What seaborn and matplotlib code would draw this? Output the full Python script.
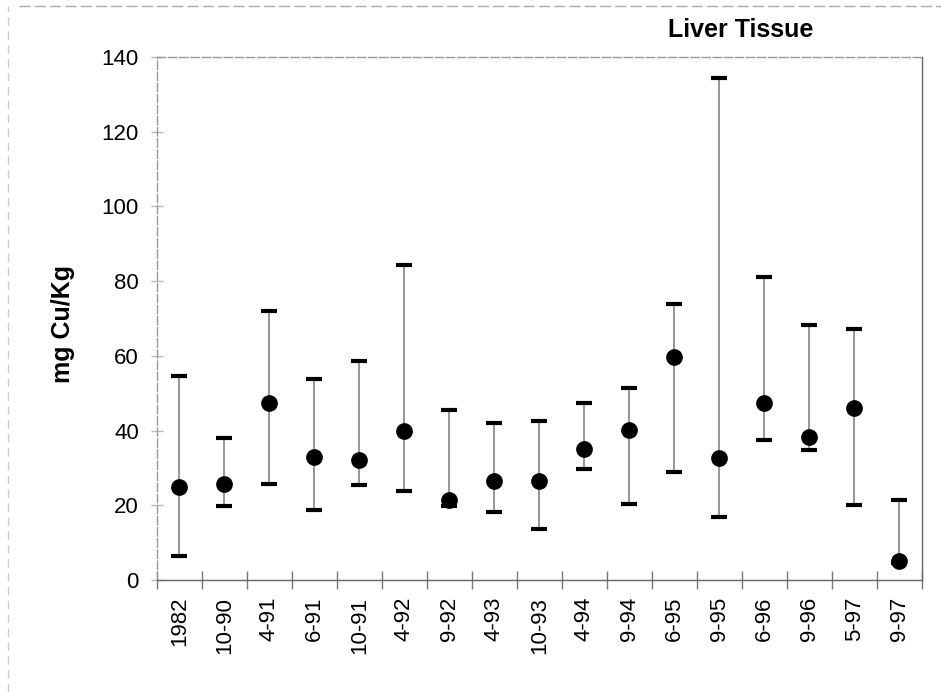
import numpy as np
import pandas as pd
import seaborn as sns
import matplotlib.pyplot as plt
from matplotlib.lines import Line2D

# sampling dates and copper in liver tissue (mg Cu/Kg)
dates = ['1982', '10-90', '4-91', '6-91', '10-91', '4-92', '9-92', '4-93', '10-93',
         '4-94', '9-94', '6-95', '9-95', '6-96', '9-96', '5-97', '9-97']
mean_cu = [24.9, 25.6, 47.4, 33.0, 32.1, 40.0, 21.5, 26.5, 26.5,
           35.0, 40.1, 59.6, 32.7, 47.4, 38.2, 46.1, 5.0]
min_cu = [6.3, 19.7, 25.7, 18.7, 25.4, 23.8, 19.8, 18.3, 13.7,
          29.8, 20.4, 28.9, 16.8, 37.4, 34.8, 20.0, 4.6]
max_cu = [54.5, 38.0, 71.9, 53.9, 58.7, 84.2, 45.4, 42.1, 42.6,
          47.4, 51.5, 74.0, 134.3, 81.1, 68.2, 67.1, 21.5]

df = pd.DataFrame({'date': dates, 'mean': mean_cu, 'min': min_cu, 'max': max_cu})

sns.set_style('white')
plt.rcParams['font.family'] = ['Liberation Sans', 'DejaVu Sans']
plt.rcParams['text.color'] = 'black'
plt.rcParams['xtick.labelcolor'] = 'black'
plt.rcParams['ytick.labelcolor'] = 'black'
plt.rcParams['axes.labelcolor'] = 'black'

fig = plt.figure(figsize=(9.41, 6.92), dpi=100)
ax = fig.add_axes([0.1668, 0.1618, 0.8130, 0.7558])

# range bars (min - max) with heavy caps
eb = ax.errorbar(df['date'], df['mean'],
                 yerr=[df['mean'] - df['min'], df['max'] - df['mean']],
                 fmt='none', ecolor='#7a7a7a', elinewidth=1.1,
                 capsize=6, capthick=3, zorder=2)
for cap in eb[1]:
    cap.set_markeredgecolor('black')
    cap.set_markerfacecolor('black')

# mean values
sns.scatterplot(data=df, x='date', y='mean', ax=ax, s=145, color='black',
                edgecolor='black', linewidth=0, zorder=3)

ax.set_xlim(-0.5, len(dates) - 0.5)
ax.set_ylim(0, 140)
ax.set_yticks(range(0, 141, 20))

# tick marks between categories, labels at the centres
ax.set_xticks(np.arange(-0.5, len(dates), 1))
ax.set_xticklabels([])
ax.set_xticks(range(len(dates)), minor=True)
ax.set_xticklabels(dates, minor=True, rotation=90, fontsize=16, color='black')
ax.tick_params(axis='x', which='major', bottom=True, direction='inout',
               length=13, width=1, color='#777777')
ax.tick_params(axis='x', which='minor', bottom=True, length=0, pad=12)
ax.tick_params(axis='y', left=True, direction='inout', length=8, width=1,
               color='#bbbbbb', labelsize=16, labelcolor='black', pad=9)

ax.set_xlabel('')
ax.set_ylabel('mg Cu/Kg', fontsize=18, fontweight='bold', color='black')
ax.yaxis.set_label_coords(-0.107, 0.49)

for side in ['left', 'top']:
    ax.spines[side].set_color('#999999')
    ax.spines[side].set_linestyle((0, (6, 2)))
    ax.spines[side].set_linewidth(1)
for side in ['bottom', 'right']:
    ax.spines[side].set_color('#666666')
    ax.spines[side].set_linewidth(1)

fig.text(0.787, 0.957, 'Liver Tissue', ha='center', va='center',
         fontsize=18, fontweight='bold', color='black')

# outer chart-area border from the original
fig.add_artist(Line2D([0.02, 1.0], [0.992, 0.992], color='#aaaaaa',
                      lw=1, ls=(0, (8, 3))))
fig.add_artist(Line2D([0.008, 0.008], [0.0, 0.992], color='#cccccc',
                      lw=1, ls=(0, (6, 4))))

fig.savefig('out.png', dpi=100)
